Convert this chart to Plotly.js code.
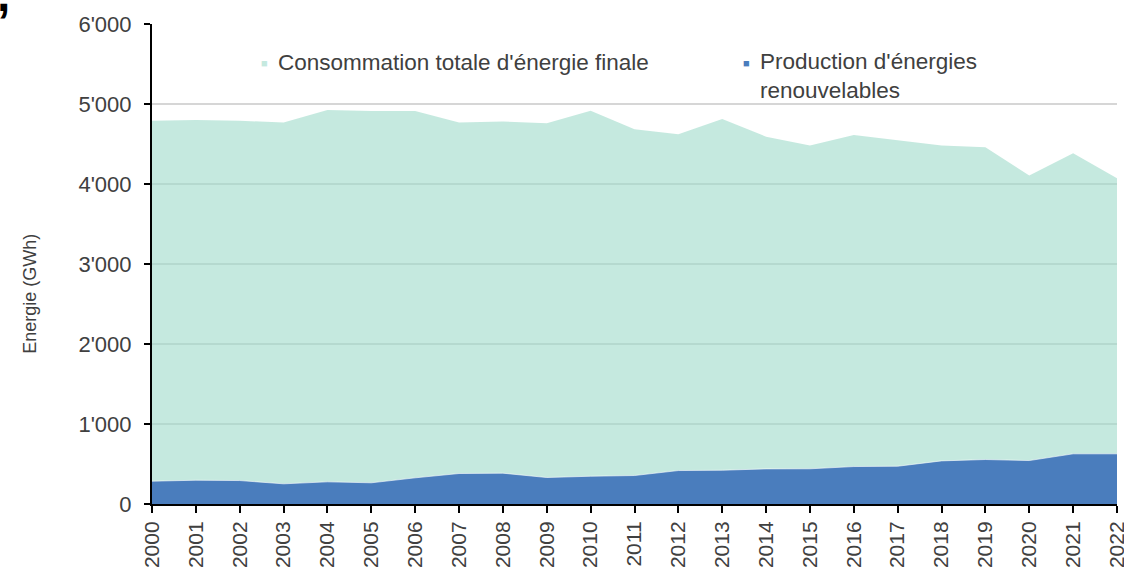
<!DOCTYPE html>
<html>
<head>
<meta charset="utf-8">
<script src="https://cdn.plot.ly/plotly-3.0.1.min.js"></script>
<style>html,body{margin:0;padding:0;background:#fff;}#chart{width:1124px;height:570px;}</style>
</head>
<body>
<div id="chart"></div>
<script>
const years = ["2000","2001","2002","2003","2004","2005","2006","2007","2008","2009","2010","2011","2012","2013","2014","2015","2016","2017","2018","2019","2020","2021","2022"];
const consommationTotale = [4790,4800,4790,4770,4925,4913,4913,4770,4780,4760,4917,4685,4622,4813,4592,4480,4613,4551,4480,4460,4105,4385,4073];
const productionRenouvelable = [285,297,293,252,277,265,327,381,385,331,347,356,418,422,439,440,468,472,539,556,543,627,627];
const yTicks = [0,1000,2000,3000,4000,5000,6000];
const legendLabels = ["Consommation totale d'énergie finale", "Production d'énergies<br>renouvelables"];
const yTitle = "Energie (GWh)";

const font = "Liberation Sans, Arial, sans-serif";
const txt = "#404040";

const traces = [
  {x: years, y: consommationTotale, type: "scatter", mode: "lines", fill: "tozeroy",
   fillcolor: "rgba(158,218,202,0.6)", line: {width: 0, color: "rgba(0,0,0,0)"},
   name: "Consommation totale d'énergie finale", showlegend: false, hoverinfo: "x+y"},
  {x: years, y: productionRenouvelable, type: "scatter", mode: "lines", fill: "tozeroy",
   fillcolor: "#4a7dbd", line: {width: 1, color: "rgba(255,255,255,0.6)"},
   name: "Production d'énergies renouvelables", showlegend: false, hoverinfo: "x+y"}
];

const layout = {
  width: 1124, height: 570,
  margin: {l: 152, r: 7, t: 24, b: 66},
  paper_bgcolor: "#fff", plot_bgcolor: "#fff",
  separators: ".'",
  font: {family: font, color: txt, size: 22},
  showlegend: false,
  xaxis: {
    type: "category", range: [0, years.length - 1],
    tickangle: -90, tickfont: {size: 21, color: txt},
    showline: true, linecolor: "#000", linewidth: 2,
    ticks: "outside", ticklen: 7, tickwidth: 2, tickcolor: "#000",
    showgrid: false, zeroline: false, fixedrange: true
  },
  yaxis: {
    range: [0, 6000], tickvals: yTicks, tickformat: ",d",
    tickfont: {size: 22, color: txt}, ticklabelstandoff: 8,
    showline: true, linecolor: "#000", linewidth: 2,
    ticks: "outside", ticklen: 6, tickwidth: 2, tickcolor: "#000",
    showgrid: true, gridcolor: "#d6d6d6", gridwidth: 2, zeroline: false,
    automargin: false, fixedrange: true
  },
  annotations: [
    {xref: "paper", yref: "paper", x: -0.1264, y: 0.438, text: yTitle, textangle: -90, showarrow: false,
     font: {size: 18, color: txt}, xanchor: "center", yanchor: "middle"},
    {xref: "paper", yref: "paper", x: 0.117, y: 0.919, text: "■", showarrow: false,
     font: {size: 11, color: "#c5e9df"}, xanchor: "center", yanchor: "middle"},
    {xref: "paper", yref: "paper", x: 0.1285, y: 0.919, text: legendLabels[0], showarrow: false,
     font: {size: 22.5, color: txt}, xanchor: "left", yanchor: "middle", align: "left"},
    {xref: "paper", yref: "paper", x: 0.6165, y: 0.919, text: "■", showarrow: false,
     font: {size: 11, color: "#4a7dbd"}, xanchor: "center", yanchor: "middle"},
    {xref: "paper", yref: "paper", x: 0.628, y: 0.952, text: legendLabels[1], showarrow: false,
     font: {size: 22.5, color: txt}, xanchor: "left", yanchor: "top", align: "left"},
    {xref: "paper", yref: "paper", x: -0.163, y: 1.12, text: "<b>,</b>", showarrow: false,
     font: {size: 48, color: "#000"}, xanchor: "left", yanchor: "top"}
  ]
};

Plotly.newPlot("chart", traces, layout, {displayModeBar: false, staticPlot: true});
</script>
</body>
</html>
